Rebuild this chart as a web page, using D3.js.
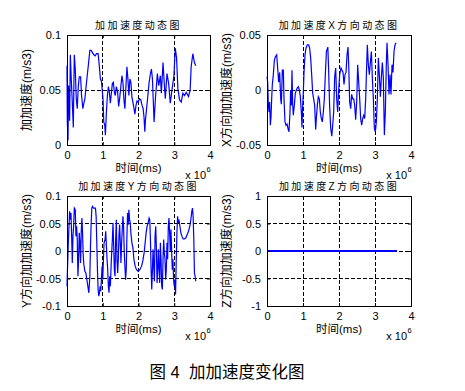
<!DOCTYPE html>
<html><head><meta charset="utf-8">
<script src="https://cdn.jsdelivr.net/npm/d3@7"></script>
<style>
html,body{margin:0;padding:0;background:#fff;}
svg text{font-family:"Liberation Sans",Arial,"Noto Sans CJK SC",sans-serif;fill:#000;}
</style></head>
<body>
<svg id="chart" width="465" height="391"></svg>
<script>
// ---------- data (time in units of 10^6 ms) ----------
const xTicks = [0, 1, 2, 3, 4];
const xTickLabels = ["0", "1", "2", "3", "4"];

// Jerk magnitude
const t1 = [0,0.009,0.028,0.046,0.074,0.093,0.12,0.148,0.176,0.204,0.231,0.259,0.287,0.315,0.343,0.38,0.407,0.444,0.472,0.5,0.528,0.565,0.602,0.639,0.676,0.713,0.75,0.787,0.824,0.87,0.898,0.935,0.963,0.991,1.009,1.028,1.056,1.074,1.102,1.13,1.157,1.185,1.213,1.241,1.269,1.296,1.324,1.352,1.38,1.417,1.444,1.472,1.509,1.537,1.565,1.593,1.62,1.648,1.676,1.704,1.731,1.759,1.787,1.815,1.843,1.87,1.899,1.93,1.96,1.991,2.03,2.065,2.1,2.13,2.155,2.176,2.195,2.241,2.297,2.334,2.362,2.39,2.436,2.473,2.528,2.565,2.612,2.639,2.686,2.713,2.75,2.797,2.843,2.889,2.936,2.991,3.028,3.065,3.102,3.149,3.195,3.241,3.287,3.334,3.399,3.445,3.473,3.519,3.565,3.6];
const v1 = [0.072,0.022,0.004,0.054,0.022,0.082,0.059,0.039,0.016,0.082,0.069,0.042,0.033,0.053,0.062,0.062,0.045,0.033,0.038,0.042,0.051,0.063,0.074,0.086,0.086,0.084,0.082,0.081,0.083,0.083,0.074,0.060,0.058,0.048,0.041,0.021,0.018,0.009,0.030,0.045,0.053,0.048,0.038,0.047,0.056,0.057,0.048,0.045,0.053,0.048,0.035,0.042,0.054,0.063,0.057,0.041,0.033,0.053,0.071,0.060,0.045,0.060,0.057,0.044,0.039,0.034,0.028,0.036,0.040,0.039,0.042,0.041,0.036,0.033,0.025,0.012,0.023,0.038,0.057,0.065,0.069,0.060,0.021,0.042,0.065,0.054,0.063,0.047,0.075,0.060,0.042,0.065,0.056,0.038,0.050,0.063,0.088,0.079,0.051,0.041,0.039,0.047,0.045,0.048,0.044,0.050,0.071,0.083,0.075,0.072];

// X direction
const t2 = [0,0.019,0.037,0.056,0.074,0.093,0.111,0.13,0.148,0.176,0.204,0.231,0.269,0.296,0.324,0.352,0.38,0.398,0.426,0.454,0.472,0.5,0.528,0.556,0.583,0.611,0.639,0.657,0.676,0.694,0.713,0.731,0.759,0.787,0.815,0.843,0.87,0.898,0.926,0.954,0.972,0.991,1.009,1.028,1.056,1.083,1.12,1.157,1.185,1.213,1.241,1.269,1.296,1.324,1.352,1.37,1.398,1.426,1.454,1.481,1.509,1.537,1.565,1.593,1.62,1.65,1.69,1.71,1.74,1.77,1.80,1.83,1.852,1.88,1.908,1.936,1.963,1.991,2.019,2.056,2.084,2.112,2.139,2.167,2.195,2.223,2.25,2.269,2.297,2.325,2.352,2.38,2.408,2.436,2.463,2.491,2.519,2.547,2.575,2.602,2.63,2.658,2.686,2.713,2.741,2.769,2.787,2.815,2.843,2.871,2.899,2.926,2.954,2.982,3.01,3.037,3.065,3.093,3.12,3.149,3.176,3.204,3.232,3.26,3.287,3.315,3.334,3.362,3.389,3.417,3.445,3.473,3.5,3.528,3.556,3.584];
const v2 = [0.012,0.007,-0.013,-0.020,-0.011,-0.032,-0.025,-0.008,0.005,0.014,0.027,0.030,0.032,0.020,0.007,0.016,-0.008,-0.013,0.018,0.018,-0.008,-0.029,-0.032,-0.031,-0.035,-0.038,-0.020,0.000,-0.014,0.018,-0.013,-0.023,-0.014,-0.003,0.000,0.002,0.003,0.000,-0.006,-0.020,-0.034,-0.015,-0.002,0.016,0.032,0.038,0.041,0.041,0.038,0.029,0.014,-0.003,-0.008,-0.014,-0.036,-0.026,-0.014,-0.006,-0.008,-0.020,-0.026,-0.029,-0.020,-0.008,0.014,0.035,0.039,0.020,-0.015,-0.035,-0.042,-0.030,-0.020,0.012,0.020,-0.008,-0.020,0.000,0.014,0.020,0.018,0.016,0.005,0.014,0.016,0.032,0.039,0.023,-0.011,-0.017,-0.004,-0.008,-0.008,-0.014,-0.027,-0.011,0.023,0.007,-0.008,-0.026,-0.032,-0.026,-0.023,-0.026,-0.008,0.023,0.041,0.023,0.014,0.025,0.035,0.011,-0.008,-0.035,-0.038,-0.029,-0.008,0.029,0.014,-0.006,0.011,0.025,0.011,-0.041,-0.020,0.024,0.043,0.023,-0.004,0.014,-0.004,0.023,0.016,0.035,0.041,0.043];

// Y direction
const t3 = [0,0.019,0.037,0.056,0.074,0.093,0.111,0.13,0.148,0.167,0.185,0.204,0.231,0.25,0.269,0.287,0.306,0.324,0.343,0.361,0.38,0.398,0.417,0.435,0.454,0.472,0.5,0.528,0.556,0.583,0.611,0.639,0.657,0.676,0.694,0.713,0.741,0.769,0.796,0.815,0.833,0.852,0.87,0.889,0.907,0.926,0.944,0.963,0.981,1.0,1.019,1.037,1.065,1.083,1.102,1.12,1.139,1.157,1.176,1.194,1.213,1.241,1.269,1.287,1.306,1.324,1.343,1.361,1.38,1.398,1.417,1.435,1.454,1.472,1.491,1.509,1.528,1.546,1.565,1.583,1.602,1.62,1.639,1.657,1.676,1.694,1.713,1.731,1.75,1.769,1.787,1.815,1.843,1.871,1.908,1.945,1.991,2.037,2.084,2.121,2.158,2.186,2.213,2.241,2.269,2.297,2.315,2.334,2.352,2.371,2.389,2.408,2.426,2.445,2.463,2.482,2.5,2.519,2.537,2.556,2.575,2.593,2.612,2.63,2.649,2.667,2.686,2.704,2.723,2.741,2.76,2.778,2.797,2.815,2.834,2.852,2.871,2.889,2.908,2.926,2.945,2.963,2.982,3.0,3.019,3.037,3.056,3.075,3.093,3.112,3.13,3.158,3.186,3.213,3.25,3.287,3.325,3.362,3.399,3.436,3.464,3.491,3.51,3.528,3.547,3.565,3.584,3.6];
const v3 = [-0.064,-0.022,0.015,0.045,0.072,0.057,0.069,0.027,-0.022,0.027,0.045,0.078,0.075,0.027,0.045,0.021,-0.046,-0.015,0.033,0.015,-0.022,0.033,0.060,0.033,-0.009,-0.025,-0.037,-0.040,-0.052,-0.064,-0.076,-0.046,0.009,0.051,0.078,0.081,0.078,0.078,0.078,0.063,0.015,-0.034,-0.070,-0.082,-0.076,-0.064,-0.073,-0.052,-0.028,-0.052,-0.015,0.015,0.021,0.036,0.009,-0.015,-0.034,-0.064,-0.076,-0.046,-0.064,-0.015,0.021,0.051,0.009,-0.034,-0.046,0.021,0.057,-0.015,-0.040,-0.015,0.027,0.048,0.015,-0.022,0.015,0.039,0.063,0.045,-0.003,-0.028,-0.052,-0.034,0.027,0.069,0.048,0.075,0.057,0.051,0.033,0.015,0.006,-0.015,-0.028,-0.034,-0.037,-0.034,-0.028,-0.018,-0.003,0.015,0.033,0.045,0.051,0.060,0.057,0.021,-0.034,-0.070,-0.034,0.003,-0.028,-0.055,0.027,0.045,0.006,-0.058,-0.034,0.003,-0.034,-0.058,0.015,-0.015,-0.064,-0.070,-0.015,0.021,-0.003,-0.015,-0.052,-0.034,0.015,-0.015,0.045,0.060,0.033,0.000,0.039,0.003,-0.034,-0.015,-0.052,-0.064,-0.052,-0.079,-0.015,0.033,0.063,0.051,0.057,0.045,0.033,0.027,0.022,0.022,0.024,0.030,0.036,0.045,0.057,0.072,0.078,0.063,0.021,-0.040,-0.046,-0.055];

// Z direction
const t4 = [0, 3.6];
const v4 = [0, 0];

const titles = ["加加速度动态图", "加加速度X方向动态图", "加加速度Y方向动态图", "加加速度Z方向动态图"];
const yLabels = ["加加速度(m/s3)", "X方向加加速度(m/s3)", "Y方向加加速度(m/s3)", "Z方向加加速度(m/s3)"];
const yDomains = [[0, 0.1], [-0.05, 0.05], [-0.1, 0.1], [-1, 1]];
const yTicks = [[0, 0.05, 0.1], [-0.05, 0, 0.05], [-0.1, -0.05, 0, 0.05, 0.1], [-1, -0.5, 0, 0.5, 1]];
const yTickLabels = [["0", "0.05", "0.1"], ["-0.05", "0", "0.05"], ["-0.1", "-0.05", "0", "0.05", "0.1"], ["-1", "-0.5", "0", "0.5", "1"]];
const xLabel = "时间(ms)";
const caption = "图 4  加加速度变化图";

// ---------- layout ----------
const boxes = [
  {x: 67, y: 35, w: 143, h: 110},
  {x: 267, y: 35, w: 144, h: 110},
  {x: 67, y: 196, w: 143, h: 110},
  {x: 267, y: 196, w: 144, h: 110}
];
const series = [[t1, v1], [t2, v2], [t3, v3], [t4, v4]];

const svg = d3.select("#chart");

boxes.forEach((b, i) => {
  const g = svg.append("g").attr("transform", `translate(${b.x},${b.y})`);
  const x = d3.scaleLinear().domain([0, 4]).range([0, b.w]);
  const y = d3.scaleLinear().domain(yDomains[i]).range([b.h, 0]);

  // grid (dashed) at interior ticks
  xTicks.filter(d => d > 0 && d < 4).forEach(d => {
    g.append("line").attr("x1", x(d)).attr("x2", x(d)).attr("y1", 0).attr("y2", b.h)
      .attr("stroke", "#000").attr("stroke-width", 1).attr("stroke-dasharray", "4,2")
      .attr("shape-rendering", "crispEdges");
  });
  const dom = yDomains[i];
  yTicks[i].filter(d => d > dom[0] && d < dom[1]).forEach(d => {
    g.append("line").attr("x1", 0).attr("x2", b.w).attr("y1", y(d)).attr("y2", y(d))
      .attr("stroke", "#000").attr("stroke-width", 1).attr("stroke-dasharray", "4,2")
      .attr("shape-rendering", "crispEdges");
  });

  // data line
  const pts = series[i][0].map((t, k) => [t, series[i][1][k]]);
  const ext = d3.extent(series[i][1]);
  const flat = ext[0] === ext[1];
  g.append("path").datum(pts)
    .attr("d", d3.line().x(d => x(d[0])).y(d => y(d[1])))
    .attr("fill", "none").attr("stroke", "#0000ff")
    .attr("stroke-width", flat ? 1.3 : 1.2)
    .attr("shape-rendering", flat ? "crispEdges" : "auto");

  // axes with inward ticks
  const ax = d3.axisBottom(x).tickValues(xTicks).tickFormat((d, k) => xTickLabels[k]).tickSizeInner(-3).tickSizeOuter(0).tickPadding(6);
  const axT = d3.axisTop(x).tickValues(xTicks).tickFormat("").tickSizeInner(-3).tickSizeOuter(0);
  const ay = d3.axisLeft(y).tickValues(yTicks[i]).tickFormat((d, k) => yTickLabels[i][k]).tickSizeInner(-3).tickSizeOuter(0).tickPadding(6);
  const ayR = d3.axisRight(y).tickValues(yTicks[i]).tickFormat("").tickSizeInner(-3).tickSizeOuter(0);

  g.append("g").attr("transform", `translate(0,${b.h})`).call(ax);
  g.append("g").call(axT);
  g.append("g").call(ay);
  g.append("g").attr("transform", `translate(${b.w},0)`).call(ayR);
  g.selectAll(".domain").remove();
  g.selectAll(".tick line").attr("stroke", "#000");
  g.selectAll(".tick text").attr("font-size", 11).attr("fill", "#000")
    .attr("font-family", '"Liberation Sans", Arial, sans-serif');

  // frame
  g.append("rect").attr("x", 0).attr("y", 0).attr("width", b.w).attr("height", b.h)
    .attr("fill", "none").attr("stroke", "#000").attr("stroke-width", 1)
    .attr("shape-rendering", "crispEdges");

  // title
  g.append("text").attr("x", b.w / 2).attr("y", -6).attr("text-anchor", "middle")
    .attr("font-size", 10).attr("letter-spacing", 2.4).attr("fill", "#222").text(titles[i]);

  // x label
  g.append("text").attr("x", b.w / 2).attr("y", b.h + 27).attr("text-anchor", "middle")
    .attr("font-size", 11.5).text(xLabel);

  // x10^6 multiplier
  g.append("text").attr("x", b.w - 4).attr("y", b.h + 34).attr("text-anchor", "end")
    .attr("font-size", 11).text("x 10");
  g.append("text").attr("x", b.w - 3.5).attr("y", b.h + 27).attr("font-size", 7.5).text("6");

  // y label
  g.append("text").attr("transform", `translate(-36,${b.h / 2}) rotate(-90)`)
    .attr("text-anchor", "middle").attr("font-size", 12).text(yLabels[i]);
});

svg.append("text").attr("x", 227).attr("y", 378).attr("text-anchor", "middle")
  .attr("font-size", 16.5).attr("font-family", '"Noto Sans CJK SC", sans-serif')
  .style("white-space", "pre").text(caption);
</script>
</body></html>
